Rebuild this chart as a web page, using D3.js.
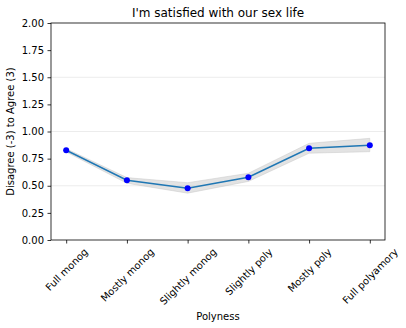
<!DOCTYPE html>
<html>
<head>
<meta charset="utf-8">
<script src="https://cdn.jsdelivr.net/npm/d3@7"></script>
<style>
  body { margin: 0; background: #fff; }
  svg text { font-family: "DejaVu Sans", sans-serif; fill: #000; }
</style>
</head>
<body>
<svg id="chart" width="406" height="328"></svg>
<script>
// polyness categories and mean agreement with its confidence band
var categories = ["Full monog", "Mostly monog", "Slightly monog", "Slightly poly", "Mostly poly", "Full polyamory"];
var means = [0.827, 0.551, 0.476, 0.578, 0.845, 0.873];
var lower = [0.812, 0.523, 0.432, 0.540, 0.800, 0.814];
var upper = [0.842, 0.575, 0.528, 0.615, 0.891, 0.937];
var yTicks = [0, 0.25, 0.5, 0.75, 1.0, 1.25, 1.5, 1.75, 2.0];
var gridVals = [0.5, 1.0, 1.5];

var margin = {top: 23, right: 21, bottom: 88, left: 51};
var svg = d3.select("svg#chart");
var width = 406 - margin.left - margin.right,
    height = 328 - margin.top - margin.bottom;

var g = svg.append("g").attr("transform", "translate(" + margin.left + "," + margin.top + ")");

var x = d3.scaleLinear().domain([-0.25, categories.length - 1 + 0.25]).range([0, width]);
var y = d3.scaleLinear().domain([0, 2]).range([height, 0]);

// faint horizontal grid
g.selectAll("line.grid")
  .data(gridVals)
  .enter().append("line")
  .attr("class", "grid")
  .attr("x1", 0).attr("x2", width)
  .attr("y1", function(d) { return y(d); })
  .attr("y2", function(d) { return y(d); })
  .attr("stroke", "#ececec")
  .attr("stroke-width", 1);

var pts = categories.map(function(c, i) {
  return {i: i, m: means[i], lo: lower[i], hi: upper[i]};
});

// confidence band
var band = d3.area()
  .x(function(d) { return x(d.i); })
  .y0(function(d) { return y(d.lo); })
  .y1(function(d) { return y(d.hi); });
g.append("path")
  .datum(pts)
  .attr("d", band)
  .attr("fill", "#c8c8c8")
  .attr("fill-opacity", 0.5)
  .attr("stroke", "#c8c8c8")
  .attr("stroke-opacity", 0.6)
  .attr("stroke-width", 0.8);

var line = d3.line()
  .x(function(d) { return x(d.i); })
  .y(function(d) { return y(d.m); });
g.append("path")
  .datum(pts)
  .attr("d", line)
  .attr("fill", "none")
  .attr("stroke", "#1f77b4")
  .attr("stroke-width", 1.5);

g.selectAll("circle.pt")
  .data(pts)
  .enter().append("circle")
  .attr("class", "pt")
  .attr("cx", function(d) { return x(d.i); })
  .attr("cy", function(d) { return y(d.m); })
  .attr("r", 3)
  .attr("fill", "#0000ff");

// axes
var yAxis = d3.axisLeft(y).tickValues(yTicks).tickSize(3.5).tickPadding(3.5)
  .tickFormat(d3.format(".2f"));
var gy = g.append("g").call(yAxis);
gy.select(".domain").remove();
gy.selectAll("text").style("font-size", "10px");
gy.selectAll("line").attr("stroke", "#000").attr("stroke-width", 0.8);

var xAxis = d3.axisBottom(x).tickValues(d3.range(categories.length)).tickSize(3.5)
  .tickFormat(function(d) { return categories[d]; });
var gx = g.append("g").attr("transform", "translate(0," + height + ")").call(xAxis);
gx.select(".domain").remove();
gx.selectAll("line").attr("stroke", "#000").attr("stroke-width", 0.8);

// rotated labels, their rotated box centred under the tick
var fh = 10, c45 = Math.SQRT1_2;
gx.selectAll("text")
  .style("font-size", fh + "px")
  .attr("text-anchor", "middle")
  .attr("dominant-baseline", "central")
  .attr("dy", null)
  .attr("y", 0)
  .attr("transform", function() {
    var L = this.getComputedTextLength();
    var halfH = (L + fh * 1.15) * c45 / 2;
    return "translate(0," + (6 + halfH) + ") rotate(-45)";
  });

// frame
g.append("rect")
  .attr("width", width).attr("height", height)
  .attr("fill", "none")
  .attr("stroke", "#000")
  .attr("stroke-width", 0.8);

svg.append("text")
  .attr("x", margin.left + width / 2)
  .attr("y", 17)
  .attr("text-anchor", "middle")
  .style("font-size", "12px")
  .text("I'm satisfied with our sex life");

svg.append("text")
  .attr("x", margin.left + width / 2)
  .attr("y", 320)
  .attr("text-anchor", "middle")
  .style("font-size", "10px")
  .text("Polyness");

svg.append("text")
  .attr("transform", "translate(14," + (margin.top + height / 2) + ") rotate(-90)")
  .attr("text-anchor", "middle")
  .style("font-size", "10px")
  .text("Disagree (-3) to Agree (3)");
</script>
</body>
</html>
